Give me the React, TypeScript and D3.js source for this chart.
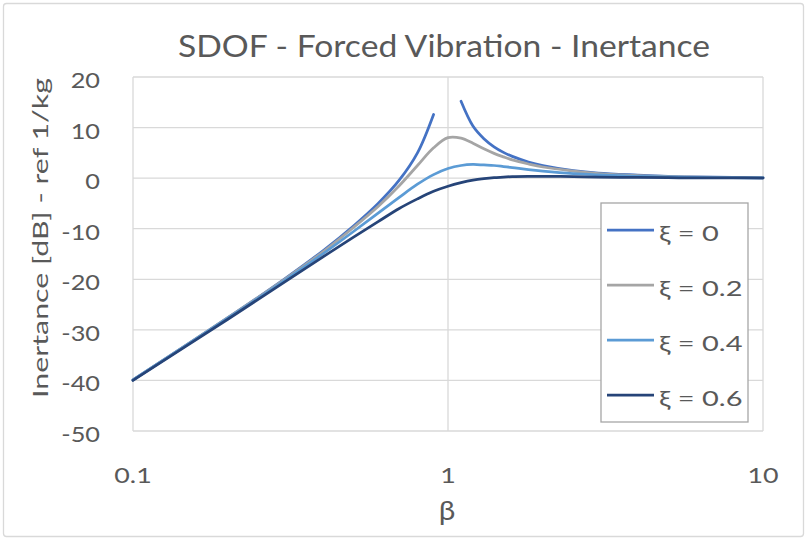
import { useEffect, useRef } from 'react';
import * as d3 from 'd3';

// β sample points used by the spreadsheet
const beta = [0.1, 0.2, 0.3, 0.4, 0.5, 0.6, 0.7, 0.8, 0.9, 1.0, 1.1, 1.2, 1.3, 1.4, 1.5, 1.6, 1.8, 2, 2.5, 3, 4, 5, 6, 8, 10];

// inertance in dB (null = break at resonance)
const xi0: (number | null)[] = [-39.9, -27.6, -20.1, -14.4, -9.5, -5.0, -0.4, 5.0, 12.6, null, 15.2, 10.3, 7.8, 6.2, 5.1, 4.3, 3.2, 2.5, 1.5, 1.0, 0.6, 0.35, 0.24, 0.14, 0.09];
const xi02 = [-39.9, -27.6, -20.2, -14.6, -9.8, -5.6, -1.5, 2.5, 6.0, 8.0, 7.9, 6.9, 5.8, 4.9, 4.2, 3.6, 2.8, 2.2, 1.4, 0.9, 0.5, 0.32, 0.22, 0.13, 0.08];
const xi04 = [-39.9, -27.7, -20.4, -15.0, -10.6, -6.9, -3.8, -1.2, 0.7, 1.9, 2.5, 2.7, 2.6, 2.5, 2.3, 2.1, 1.7, 1.4, 0.9, 0.65, 0.37, 0.24, 0.16, 0.09, 0.06];
const xi06 = [-40.0, -27.9, -20.7, -15.6, -11.7, -8.6, -6.0, -4.1, -2.6, -1.6, -0.9, -0.4, -0.1, 0.1, 0.2, 0.3, 0.35, 0.35, 0.3, 0.2, 0.14, 0.09, 0.06, 0.04, 0.02];

const seriesNames = ['ξ = 0', 'ξ = 0.2', 'ξ = 0.4', 'ξ = 0.6'];
const seriesColors = ['#4472C4', '#A5A5A5', '#5B9BD5', '#264478'];
const yTicks = [20, 10, 0, -10, -20, -30, -40, -50];
const xTicks = [0.1, 1, 10];

const W = 807, H = 540;
const FONT = 'Lato, "Open Sans", sans-serif';
const TEXT = '#595959';
const STRETCH = 1.28; // the source picture's text is a little wide

export default function App() {
  const svgRef = useRef<SVGSVGElement>(null);

  useEffect(() => {
    if (!svgRef.current) return;
    const svg = d3.select(svgRef.current);
    svg.selectAll('*').remove();

    const left = 133, right = 763, top = 77, bottom = 431;
    const x = d3.scaleLog().domain([0.1, 10]).range([left, right]);
    const y = d3.scaleLinear().domain([-50, 20]).range([bottom, top]);

    const label = (px: number, py: number, txt: string, size: number, anchor: string, k = STRETCH) =>
      svg.append('text').attr('transform', `translate(${px},${py}) scale(${k},1)`)
        .attr('text-anchor', anchor).attr('font-family', FONT).attr('font-size', size)
        .attr('fill', TEXT).text(txt);

    // chart frame
    svg.append('rect').attr('x', 3.5).attr('y', 3.5).attr('width', W - 7).attr('height', H - 7)
      .attr('rx', 3).attr('fill', '#fff').attr('stroke', '#D9D9D9').attr('stroke-width', 1.3);

    // title
    svg.append('text').attr('x', 178).attr('y', 57)
      .attr('textLength', 532).attr('lengthAdjust', 'spacingAndGlyphs')
      .attr('font-family', FONT).attr('font-size', 30).attr('fill', TEXT)
      .text('SDOF - Forced Vibration - Inertance');

    // grid
    const grid = svg.append('g').attr('stroke', '#D9D9D9').attr('stroke-width', 1.3);
    yTicks.forEach(t => {
      grid.append('line').attr('x1', left).attr('x2', right).attr('y1', y(t)).attr('y2', y(t));
    });
    xTicks.forEach(t => {
      grid.append('line').attr('x1', x(t)).attr('x2', x(t)).attr('y1', top).attr('y2', bottom);
    });

    // tick labels
    yTicks.forEach(t => label(100, y(t) + 11, String(t), 22, 'end', 1.15));
    xTicks.forEach(t => label(x(t), 483, String(t), 22, 'middle', 1.22));

    // axis titles
    label(447, 520, 'β', 27, 'middle', 1.1);
    svg.append('text').attr('transform', 'translate(48,398) rotate(-90)')
      .attr('textLength', 320).attr('lengthAdjust', 'spacingAndGlyphs')
      .attr('font-family', FONT).attr('font-size', 22).attr('fill', TEXT)
      .text('Inertance [dB] - ref 1/kg');

    // series
    const all = [xi0, xi02, xi04, xi06];
    const line = d3.line<[number, number | null]>()
      .defined(d => d[1] !== null)
      .x(d => x(d[0]))
      .y(d => y(d[1] as number))
      .curve(d3.curveCatmullRom.alpha(0.5));
    all.forEach((vals, i) => {
      const pts = beta.map((b, j) => [b, vals[j]] as [number, number | null]);
      svg.append('path').datum(pts).attr('d', line as any)
        .attr('fill', 'none').attr('stroke', seriesColors[i]).attr('stroke-width', 2.75)
        .attr('stroke-linejoin', 'round').attr('stroke-linecap', 'round');
    });

    // legend
    const lg = svg.append('g');
    lg.append('rect').attr('x', 601).attr('y', 203).attr('width', 147).attr('height', 219)
      .attr('fill', '#fff').attr('stroke', '#A6A6A6').attr('stroke-width', 1.3);
    const rowY = [230, 285, 340, 395];
    seriesNames.forEach((name, i) => {
      lg.append('line').attr('x1', 607).attr('x2', 654).attr('y1', rowY[i]).attr('y2', rowY[i])
        .attr('stroke', seriesColors[i]).attr('stroke-width', 2.75);
      lg.append('text').attr('transform', `translate(659,${rowY[i] + 11}) scale(1.38,1)`)
        .attr('font-family', FONT).attr('font-size', 21).attr('fill', TEXT).text(name);
    });
  }, []);

  return (
    <svg ref={svgRef} width={W} height={H} viewBox={`0 0 ${W} ${H}`}
      style={{ position: 'absolute', left: 0, top: 0, background: '#fff' }} />
  );
}
